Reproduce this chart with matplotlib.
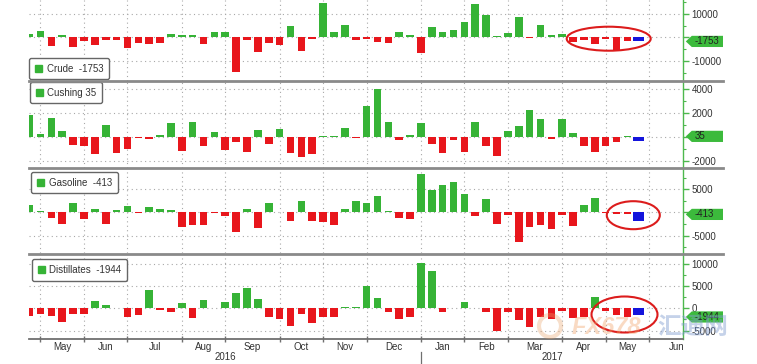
import numpy as np
import pandas as pd
import matplotlib
matplotlib.use("Agg")
import matplotlib.pyplot as plt
from matplotlib.patches import Patch, Polygon, Ellipse, Circle
from matplotlib.lines import Line2D
from matplotlib.transforms import IdentityTransform

# ---------------- data (weekly, thousand barrels; last value = forecast) ----------------
week_ending = pd.date_range("2016-04-22", periods=57, freq="W-FRI")

crude = [1500, 2700, -3700, 1100, -4300, -1600, -3300, -1000, -1000, -4400,
         -2600, -2700, -2600, 1400, 1100, 800, -2800, 2400, 2100, -14600,
         -1000, -6400, -2300, -3100, 5000, -5700, -700, 14500, 2400, 5300,
         -1000, -900, -2100, -2600, 2300, 800, -6800, 4200, 2300, 2900,
         6600, 14000, 9700, 700, 1800, 8500, -200, 5100, 900, 1600,
         -2200, -1000, -3000, -900, -5300, -1753, -1600]
cushing = [1780, 250, 1560, 470, -720, -780, -1450, 970, -1390, -1030,
           -100, -220, 170, 1140, -1200, 1200, -780, 360, -1140, -470,
           -1280, 530, -640, 610, -1360, -1720, -1450, 30, 30, 700,
           -60, 2560, 3950, 1250, -280, 170, 1140, -580, -1360, -280,
           -1280, 1220, -750, -1610, 470, 920, 2220, 1500, -220, 1450,
           280, -800, -1250, -780, -450, 35, -390]
gasoline = [1580, 360, -1150, -2440, 2010, -1440, 860, -2580, 570, 1440,
            -100, 1220, 860, 430, -3230, -2800, -2800, -50, -790, -4160,
            650, -3300, 2010, 100, -1800, 2580, -1940, -2080, -2730, 790,
            2370, 2010, 3450, 360, -1150, -1440, 8330, 4950, 5960, 6680,
            3880, -860, 2870, -2510, -570, -6460, -3020, -2730, -3660, -570,
            -2940, 1510, 3230, -100, -250, -413, -1940]
distillates = [-1650, -1280, -1650, -3150, -1280, -1280, 1650, 680, 50, -1880,
               -1580, 4050, -300, -750, 1200, -2100, 1950, 30, 1430, 3450,
               4500, 2100, -1880, -2400, -3900, -1280, -3380, -1880, -2030, 200,
               200, 5030, 2400, -750, -2400, -1880, 10100, 8250, -900, 30,
               1430, 30, -750, -5030, -900, -2700, -4280, -1880, -2480, -530,
               -2100, -1950, 2630, -530, -1500, -1944, -1580]

series_names = ["Crude", "Cushing", "Gasoline", "Distillates"]
series_values = [crude, cushing, gasoline, distillates]

# ---------------- style ----------------
W, H, DPI = 757, 364, 100
GREEN = "#36b336"
RED = "#e8161c"
BLUE = "#1414dc"
AXGREEN = "#4db84d"
GRID = "#a8a8a8"
TXT = "#333333"

plt.rcParams["font.family"] = ["Liberation Sans", "DejaVu Sans"]
plt.rcParams["axes.unicode_minus"] = False

fig = plt.figure(figsize=(W / DPI, H / DPI), dpi=DPI)
fig.patch.set_facecolor("white")

X0, X1 = 29.3, 683.3
panels = [  # (top px, bottom px, ylim, major step, minor step, legend loc, legend anchor)
    (0, 81, (-18590, 15870), 10000, 5000, "lower left", (0.0, 0.02)),
    (82, 168, (-2600, 4565), 2000, 1000, "upper left", (0.001, 1.003)),
    (168, 253, (-8730, 9590), 5000, 2500, "upper left", (0.0026, 0.956)),
    (254, 339, (-6880, 12160), 5000, 2500, "upper left", (0.004, 0.941)),
]

n = len(crude)
idx = np.arange(n)
xlim = (-0.03, 60.14)
# month ticks: week whose following week falls in a new month
ext = pd.date_range(week_ending[0], periods=n + 8, freq="W-FRI")
all_tick = [i for i in range(len(ext) - 1) if (ext[i] + pd.Timedelta(days=7)).month != ext[i].month]
all_month = [(ext[i] + pd.Timedelta(days=7)).strftime("%b") for i in all_tick]
mid_all = [(a + b) / 2 for a, b in zip(all_tick[:-1], all_tick[1:])]
mid_pos = [m for m in mid_all if xlim[0] < m < xlim[1]]
mid_lab = [all_month[i] for i, m in enumerate(mid_all) if xlim[0] < m < xlim[1]]
tick_pos = [p for p in all_tick if xlim[0] < p < xlim[1]]
tick_month = [all_month[i] for i, p in enumerate(all_tick) if xlim[0] < p < xlim[1]]

axes = []
for k, (name, vals) in enumerate(zip(series_names, series_values)):
    top, bot, ylim, mstep, nstep, lloc, lanchor = panels[k]
    ax = fig.add_axes([X0 / W, 1 - bot / H, (X1 - X0) / W, (bot - top) / H])
    axes.append(ax)
    actual = np.array(vals[:-1])
    cols = [GREEN if v >= 0 else RED for v in actual]
    ax.bar(idx[:-1], actual, width=0.7, color=cols, zorder=3)
    ax.bar(idx[-1], vals[-1], width=1.0, color=BLUE, zorder=3)
    for s in ["top", "left", "bottom"]:
        ax.spines[s].set_visible(False)
    ax.spines["right"].set_color(AXGREEN)
    ax.spines["right"].set_linewidth(1.0)
    ax.yaxis.tick_right()
    majors = np.arange(np.ceil(ylim[0] / mstep) * mstep, ylim[1], mstep)
    minors = np.arange(np.ceil(ylim[0] / nstep) * nstep, ylim[1], nstep)
    ax.set_yticks(majors)
    ax.set_yticks(minors, minor=True)
    last = vals[-2]
    span_per_px = (ylim[1] - ylim[0]) / (bot - top)
    labels = ["" if abs(v - last) < 6.5 * span_per_px else f"{int(v)}" for v in majors]
    ax.set_yticklabels(labels)
    ax.tick_params(axis="y", which="major", length=4.5, width=1.0, color=AXGREEN,
                   labelsize=7, labelcolor=TXT, pad=1.5)
    ax.tick_params(axis="y", which="minor", length=2.5, width=0.8, color=AXGREEN)
    ax.set_xticks(tick_pos)
    ax.grid(axis="both", which="major", linestyle=(0, (1, 3)), color=GRID, linewidth=0.8, zorder=0)
    if k < 3:
        ax.tick_params(axis="x", which="both", length=0, labelbottom=False)
    else:
        ax.spines["bottom"].set_visible(True)
        ax.spines["bottom"].set_color("#707070")
        ax.spines["bottom"].set_linewidth(1.3)
        ax.set_xticklabels([""] * len(tick_pos))
        ax.set_xticks(mid_pos, minor=True)
        ax.set_xticklabels(mid_lab, minor=True)
        ax.tick_params(axis="x", which="major", length=5, width=1.0, direction="inout", color="#707070")
        ax.tick_params(axis="x", which="minor", length=0, labelsize=7, labelcolor=TXT, pad=2.5)
    ax.set_xlim(*xlim)
    ax.set_ylim(*ylim)

    # legend
    lab = f"{name}  {last}" if last < 0 else f"{name} {last}"
    leg = ax.legend(handles=[Patch(facecolor=GREEN, edgecolor=GREEN)],
                    labels=[lab], loc=lloc, bbox_to_anchor=lanchor,
                    borderaxespad=0, fontsize=7, frameon=True, fancybox=True,
                    handlelength=0.7, handleheight=0.7, handletextpad=0.5,
                    borderpad=0.6, framealpha=1)
    leg.get_frame().set_edgecolor("#666666")
    leg.get_frame().set_linewidth(1.0)
    for t in leg.get_texts():
        t.set_color(TXT)
    leg.set_zorder(10)

# year labels + separator
ax4 = axes[3]
xt = ax4.get_xaxis_transform()
yb = [p for p, m in zip(tick_pos, tick_month) if m == "Jan"][0]
ax4.annotate("2016", xy=((xlim[0] + yb) / 2, 0), xycoords=xt, xytext=(0, -13.3),
             textcoords="offset points", ha="center", va="center", fontsize=7, color=TXT)
ax4.annotate("2017", xy=((yb + xlim[1]) / 2, 0), xycoords=xt, xytext=(0, -13.3),
             textcoords="offset points", ha="center", va="center", fontsize=7, color=TXT)
ax4.plot([yb, yb], [-0.15, -0.30], transform=xt, color="#707070", lw=0.9, clip_on=False)

# panel separators
for y in (81.3, 168.0, 253.6):
    fig.add_artist(Line2D([29.3 / W, 723 / W], [1 - y / H, 1 - y / H], transform=fig.transFigure,
                          color="#8a8a8a", lw=2.0, zorder=5))

# current value boxes on right axis
for ax, vals in zip(axes, series_values):
    v = vals[-2]
    xd = ax.transAxes.transform((1, 0))[0]
    yd = ax.transData.transform((0, v))[1]
    verts = [(xd + 2.5, yd), (xd + 8.5, yd + 5.6), (xd + 39.7, yd + 5.6),
             (xd + 39.7, yd - 5.6), (xd + 8.5, yd - 5.6)]
    fig.add_artist(Polygon(verts, closed=True, transform=IdentityTransform(),
                           facecolor="#3cba3c", edgecolor="none", zorder=20))
    fig.text(xd + 11, yd, f"{v}", transform=IdentityTransform(), ha="left", va="center",
             fontsize=7, color="#222222", zorder=21)

# red circles
for cx, cy, w, h in [(608.7, 38.7, 84, 24), (633.3, 215.2, 53, 28), (624.5, 314.5, 66, 36)]:
    fig.add_artist(Ellipse((cx, H - cy), w, h, transform=IdentityTransform(),
                           facecolor="none", edgecolor="#dc1c1c", lw=1.5, zorder=22))

# watermark
fig.add_artist(Circle((550, H - 326), 11, transform=IdentityTransform(), facecolor="none",
                      edgecolor="#e9a46c", lw=3, alpha=0.35, zorder=23))
fig.text(572 / W, 1 - 327 / H, "FX678", fontsize=17, fontweight="bold", style="italic",
         color="#f2a46a", alpha=0.4, ha="left", va="center", zorder=23)
fig.text(657 / W, 1 - 327 / H, "汇通网", fontsize=17, fontweight="bold",
         family=["Noto Sans CJK SC", "DejaVu Sans"],
         color="#7f9cd0", alpha=0.45, ha="left", va="center", zorder=23)

fig.savefig("out.png", dpi=DPI, facecolor="white")
